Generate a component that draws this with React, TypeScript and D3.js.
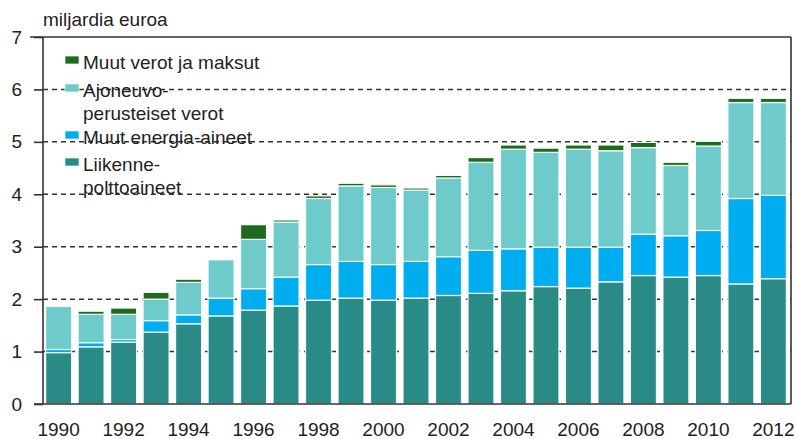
import React, { useEffect, useRef } from 'react';
import * as d3 from 'd3';

const years = [1990, 1991, 1992, 1993, 1994, 1995, 1996, 1997, 1998, 1999, 2000, 2001,
  2002, 2003, 2004, 2005, 2006, 2007, 2008, 2009, 2010, 2011, 2012];

// miljardia euroa
const liikenne = [0.98, 1.09, 1.18, 1.37, 1.53, 1.68, 1.79, 1.87, 1.98, 2.02, 1.98, 2.02,
  2.07, 2.11, 2.16, 2.24, 2.21, 2.33, 2.45, 2.42, 2.45, 2.29, 2.39];
const muutEnergia = [0.06, 0.08, 0.05, 0.22, 0.17, 0.34, 0.41, 0.55, 0.68, 0.70, 0.68, 0.70,
  0.74, 0.82, 0.80, 0.75, 0.78, 0.66, 0.79, 0.79, 0.86, 1.63, 1.59];
const ajoneuvo = [0.82, 0.54, 0.48, 0.41, 0.62, 0.73, 0.94, 1.05, 1.26, 1.44, 1.47, 1.36,
  1.50, 1.68, 1.90, 1.81, 1.87, 1.84, 1.65, 1.34, 1.61, 1.83, 1.77];
const muutVerot = [0, 0.06, 0.12, 0.13, 0.06, 0, 0.28, 0.04, 0.05, 0.05, 0.05, 0.04,
  0.05, 0.09, 0.08, 0.08, 0.08, 0.11, 0.1, 0.06, 0.09, 0.08, 0.08];

const seriesKeys = ['liikenne', 'muutEnergia', 'ajoneuvo', 'muutVerot'];
const seriesColors = ['#2a8a85', '#00adef', '#6ecbca', '#1e6b1c'];

const yTicks = [0, 1, 2, 3, 4, 5, 6, 7];
const xTickYears = [1990, 1992, 1994, 1996, 1998, 2000, 2002, 2004, 2006, 2008, 2010, 2012];

// legend, top to bottom
const legendLines = [
  { color: '#1e6b1c', lines: ['Muut verot ja maksut'] },
  { color: '#6ecbca', lines: ['Ajoneuvo-', 'perusteiset verot'] },
  { color: '#00adef', lines: ['Muut energia-aineet'] },
  { color: '#2a8a85', lines: ['Liikenne-', 'polttoaineet'] },
];

const FONT = '"Liberation Sans", Arial, sans-serif';

const App = () => {
  const svgRef = useRef<SVGSVGElement>(null);

  useEffect(() => {
    const W = 795, H = 439;
    const left = 43, right = 791, top = 37, bottom = 404;

    const svg = d3.select(svgRef.current).attr('width', W).attr('height', H);
    svg.selectAll('*').remove();

    const table = years.map((yr, i) => ({
      year: yr,
      liikenne: liikenne[i],
      muutEnergia: muutEnergia[i],
      ajoneuvo: ajoneuvo[i],
      muutVerot: muutVerot[i],
    }));

    const x = d3.scaleBand<number>()
      .domain(years)
      .range([44, 788])
      .paddingInner(0.2)
      .paddingOuter(0.05);

    const y = d3.scaleLinear().domain([0, 7]).range([bottom, top]);

    // dashed grid
    svg.append('g')
      .selectAll('line')
      .data(yTicks.filter(d => d > 0 && d < 7))
      .enter().append('line')
      .attr('x1', left).attr('x2', right)
      .attr('y1', d => y(d)).attr('y2', d => y(d))
      .attr('stroke', '#333')
      .attr('stroke-width', 1.5)
      .attr('stroke-dasharray', '5,4');

    // stacked bars
    const stacked = d3.stack<any>().keys(seriesKeys)(table);
    svg.append('g')
      .selectAll('g')
      .data(stacked)
      .enter().append('g')
      .attr('fill', (_d, i) => seriesColors[i])
      .selectAll('rect')
      .data(d => d.filter(s => s[1] - s[0] > 0))
      .enter().append('rect')
      .attr('x', d => x(d.data.year)!)
      .attr('width', x.bandwidth())
      .attr('y', d => y(d[1]))
      .attr('height', d => y(d[0]) - y(d[1]))
      .attr('stroke', '#f4fbfa')
      .attr('stroke-width', 1.2);

    // frame
    const frame = svg.append('g').attr('stroke', '#333').attr('stroke-width', 1.6).attr('fill', 'none');
    frame.append('line').attr('x1', 30).attr('x2', right).attr('y1', top).attr('y2', top);
    frame.append('line').attr('x1', right).attr('x2', right).attr('y1', top).attr('y2', bottom);
    frame.append('line').attr('x1', left).attr('x2', left).attr('y1', top).attr('y2', bottom);
    frame.append('line').attr('x1', 34).attr('x2', right).attr('y1', bottom).attr('y2', bottom);

    // y axis
    const yAxis = d3.axisLeft(y).tickValues(yTicks).tickSize(9).tickPadding(12).tickFormat(d3.format('d'));
    const ya = svg.append('g').attr('transform', `translate(${left},0)`).call(yAxis);
    ya.select('.domain').remove();
    ya.selectAll('line').attr('stroke', '#333').attr('stroke-width', 1.6);
    ya.selectAll('text')
      .attr('font-family', FONT)
      .attr('font-size', 19)
      .attr('fill', '#222');

    // x labels
    svg.append('g')
      .selectAll('text')
      .data(xTickYears)
      .enter().append('text')
      .attr('x', d => x(d)! + x.bandwidth() / 2)
      .attr('y', 436)
      .attr('text-anchor', 'middle')
      .attr('font-family', FONT)
      .attr('font-size', 19)
      .attr('fill', '#222')
      .text(d => d);

    // unit
    svg.append('text')
      .attr('x', 43).attr('y', 26)
      .attr('font-family', FONT)
      .attr('font-size', 19)
      .attr('fill', '#222')
      .text('miljardia euroa');

    // legend
    const legendTops = [56, 84, 131, 158];
    const lg = svg.append('g');
    legendLines.forEach((item, i) => {
      const t = legendTops[i];
      lg.append('rect')
        .attr('x', 65).attr('y', t).attr('width', 14).attr('height', 8)
        .attr('fill', item.color)
        .attr('stroke', '#dff2f0').attr('stroke-width', 0.8);
      item.lines.forEach((ln, j) => {
        lg.append('text')
          .attr('x', 83).attr('y', t + 13 + j * 23)
          .attr('font-family', FONT)
          .attr('font-size', 19)
          .attr('fill', '#222')
          .text(ln);
      });
    });
  }, []);

  return <svg ref={svgRef} style={{ position: 'absolute', left: 0, top: 0 }}></svg>;
};

export default App;
